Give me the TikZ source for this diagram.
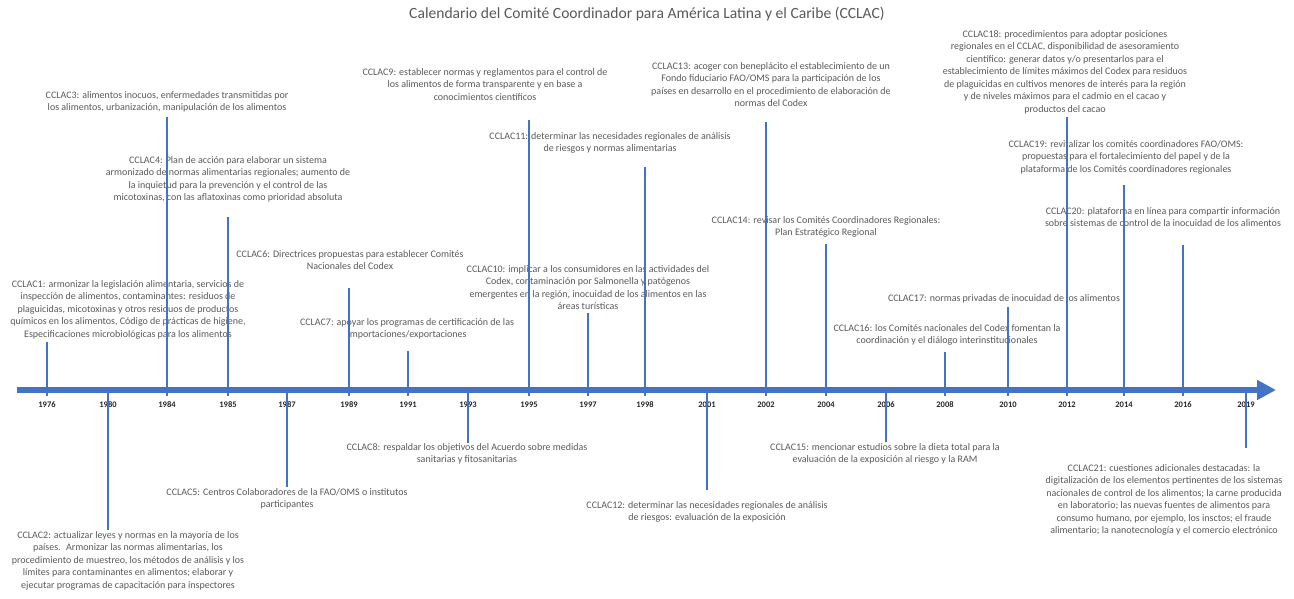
\documentclass[tikz,border=0pt]{standalone}
\usepackage{fontspec}
\setmainfont{Carlito}
\usetikzlibrary{arrows.meta}
\definecolor{tlblue}{HTML}{4472C4}
\definecolor{txtgray}{HTML}{595959}

\begin{document}
\begin{tikzpicture}[
    x=1pt, y=-1pt,
    evt/.style={anchor=north, inner sep=0pt, align=center, text=txtgray, font=\fontsize{10}{12.5}\selectfont},
    yearlbl/.style={inner sep=0pt, text=black!85, font=\fontsize{8.5}{10}\selectfont\bfseries},
    stem/.style={draw=tlblue, line width=1.2pt},
    axis/.style={draw=tlblue, line width=6.5pt, -{Triangle[length=19pt, width=19pt]}}
]
    \useasboundingbox (0,0) rectangle (1294,598);
    \node[text=txtgray, font=\fontsize{15.6}{18}\selectfont] (title) at (647,14) {Calendario del Comité Coordinador para América Latina y el Caribe (CCLAC)};

    % axis end points
    \coordinate (tstart) at (17,390);
    \coordinate (tend) at (1276,390);

    % points on the axis
    \coordinate (y1976) at (47,396);
    \coordinate (y1980) at (108,390);
    \coordinate (y1984) at (167,396);
    \coordinate (y1985) at (228,396);
    \coordinate (y1987) at (287,390);
    \coordinate (y1989) at (349,396);
    \coordinate (y1991) at (408,396);
    \coordinate (y1993) at (468,390);
    \coordinate (y1995) at (529,396);
    \coordinate (y1997) at (588,396);
    \coordinate (y1998) at (645,396);
    \coordinate (y2001) at (707,390);
    \coordinate (y2002) at (766,396);
    \coordinate (y2004) at (826,396);
    \coordinate (y2006) at (886,390);
    \coordinate (y2008) at (945,396);
    \coordinate (y2010) at (1008,396);
    \coordinate (y2012) at (1067,396);
    \coordinate (y2014) at (1124,396);
    \coordinate (y2016) at (1183,396);
    \coordinate (y2019) at (1246,390);

    % year labels
    \node[yearlbl] (l1976) at (47,405) {1976};
    \node[yearlbl] (l1980) at (108,405) {1980};
    \node[yearlbl] (l1984) at (167,405) {1984};
    \node[yearlbl] (l1985) at (228,405) {1985};
    \node[yearlbl] (l1987) at (287,405) {1987};
    \node[yearlbl] (l1989) at (349,405) {1989};
    \node[yearlbl] (l1991) at (408,405) {1991};
    \node[yearlbl] (l1993) at (468,405) {1993};
    \node[yearlbl] (l1995) at (529,405) {1995};
    \node[yearlbl] (l1997) at (588,405) {1997};
    \node[yearlbl] (l1998) at (645,405) {1998};
    \node[yearlbl] (l2001) at (707,405) {2001};
    \node[yearlbl] (l2002) at (766,405) {2002};
    \node[yearlbl] (l2004) at (826,405) {2004};
    \node[yearlbl] (l2006) at (886,405) {2006};
    \node[yearlbl] (l2008) at (945,405) {2008};
    \node[yearlbl] (l2010) at (1008,405) {2010};
    \node[yearlbl] (l2012) at (1067,405) {2012};
    \node[yearlbl] (l2014) at (1124,405) {2014};
    \node[yearlbl] (l2016) at (1183,405) {2016};
    \node[yearlbl] (l2019) at (1246,405) {2019};

    % sessions
    \node[evt] (c1) at (128,280) {CCLAC1: armonizar la legislación alimentaria, servicios de\\inspección de alimentos, contaminantes: residuos de\\plaguicidas, micotoxinas y otros residuos de productos\\químicos en los alimentos, Código de prácticas de higiene,\\Especificaciones microbiológicas para los alimentos};
    \node[evt] (c2) at (128,531) {CCLAC2: actualizar leyes y normas en la mayoría de los\\países.~ Armonizar las normas alimentarias, los\\procedimiento de muestreo, los métodos de análisis y los\\límites para contaminantes en alimentos; elaborar y\\ejecutar programas de capacitación para inspectores};
    \node[evt] (c3) at (167,91) {CCLAC3: alimentos inocuos, enfermedades transmitidas por\\los alimentos, urbanización, manipulación de los alimentos};
    \node[evt] (c4) at (228,156) {CCLAC4: Plan de acción para elaborar un sistema\\armonizado de normas alimentarias regionales; aumento de\\la inquietud para la prevención y el control de las\\micotoxinas, con las aflatoxinas como prioridad absoluta};
    \node[evt] (c5) at (287,488) {CCLAC5: Centros Colaboradores de la FAO/OMS o institutos\\participantes};
    \node[evt] (c6) at (350,250) {CCLAC6: Directrices propuestas para establecer Comités\\Nacionales del Codex};
    \node[evt] (c7) at (407,318) {CCLAC7: apoyar los programas de certificación de las\\importaciones/exportaciones};
    \node[evt] (c8) at (467,443) {CCLAC8: respaldar los objetivos del Acuerdo sobre medidas\\sanitarias y fitosanitarias};
    \node[evt] (c9) at (485,68) {CCLAC9: establecer normas y reglamentos para el control de\\los alimentos de forma transparente y en base a\\conocimientos científicos};
    \node[evt] (c10) at (588,265) {CCLAC10: implicar a los consumidores en las actividades del\\Codex, contaminación por Salmonella y patógenos\\emergentes en la región, inocuidad de los alimentos en las\\áreas turísticas};
    \node[evt] (c11) at (610,132) {CCLAC11: determinar las necesidades regionales de análisis\\de riesgos y normas alimentarias};
    \node[evt] (c12) at (707,501) {CCLAC12: determinar las necesidades regionales de análisis\\de riesgos: evaluación de la exposición};
    \node[evt] (c13) at (771,62) {CCLAC13: acoger con beneplácito el establecimiento de un\\Fondo fiduciario FAO/OMS para la participación de los\\países en desarrollo en el procedimiento de elaboración de\\normas del Codex};
    \node[evt] (c14) at (826,216) {CCLAC14: revisar los Comités Coordinadores Regionales:\\Plan Estratégico Regional};
    \node[evt] (c15) at (885,443) {CCLAC15: mencionar estudios sobre la dieta total para la\\evaluación de la exposición al riesgo y la RAM};
    \node[evt] (c16) at (947,324) {CCLAC16: los Comités nacionales del Codex fomentan la\\coordinación y el diálogo interinstitucionales};
    \node[evt] (c17) at (1004,294) {CCLAC17: normas privadas de inocuidad de los alimentos};
    \node[evt] (c18) at (1065,30) {CCLAC18: procedimientos para adoptar posiciones\\regionales en el CCLAC, disponibilidad de asesoramiento\\científico: generar datos y/o presentarlos para el\\establecimiento de límites máximos del Codex para residuos\\de plaguicidas en cultivos menores de interés para la región\\y de niveles máximos para el cadmio en el cacao y\\productos del cacao};
    \node[evt] (c19) at (1126,140) {CCLAC19: revitalizar los comités coordinadores FAO/OMS:\\propuestas para el fortalecimiento del papel y de la\\plataforma de los Comités coordinadores regionales};
    \node[evt] (c20) at (1163,207) {CCLAC20: plataforma en línea para compartir información\\sobre sistemas de control de la inocuidad de los alimentos};
    \node[evt] (c21) at (1164,464) {CCLAC21: cuestiones adicionales destacadas: la\\digitalización de los elementos pertinentes de los sistemas\\nacionales de control de los alimentos; la carne producida\\en laboratorio; las nuevas fuentes de alimentos para\\consumo humano, por ejemplo, los insctos; el fraude\\alimentario; la nanotecnología y el comercio electrónico};

    % stem ends
    \coordinate (s1) at (47,342);
    \coordinate (s2) at (108,530);
    \coordinate (s3) at (167,117);
    \coordinate (s4) at (228,217);
    \coordinate (s5) at (287,487);
    \coordinate (s6) at (349,288);
    \coordinate (s7) at (408,351);
    \coordinate (s8) at (468,443);
    \coordinate (s9) at (529,120);
    \coordinate (s10) at (588,313);
    \coordinate (s11) at (645,167);
    \coordinate (s12) at (707,490);
    \coordinate (s13) at (766,122);
    \coordinate (s14) at (826,244);
    \coordinate (s15) at (886,442);
    \coordinate (s16) at (945,352);
    \coordinate (s17) at (1008,307);
    \coordinate (s18) at (1067,117);
    \coordinate (s19) at (1124,185);
    \coordinate (s20) at (1183,245);
    \coordinate (s21) at (1246,448);

    \draw[stem] (y1976) -- (s1);
    \draw[stem] (y1980) -- (s2);
    \draw[stem] (y1984) -- (s3);
    \draw[stem] (y1985) -- (s4);
    \draw[stem] (y1987) -- (s5);
    \draw[stem] (y1989) -- (s6);
    \draw[stem] (y1991) -- (s7);
    \draw[stem] (y1993) -- (s8);
    \draw[stem] (y1995) -- (s9);
    \draw[stem] (y1997) -- (s10);
    \draw[stem] (y1998) -- (s11);
    \draw[stem] (y2001) -- (s12);
    \draw[stem] (y2002) -- (s13);
    \draw[stem] (y2004) -- (s14);
    \draw[stem] (y2006) -- (s15);
    \draw[stem] (y2008) -- (s16);
    \draw[stem] (y2010) -- (s17);
    \draw[stem] (y2012) -- (s18);
    \draw[stem] (y2014) -- (s19);
    \draw[stem] (y2016) -- (s20);
    \draw[stem] (y2019) -- (s21);

    \draw[axis] (tstart) -- (tend);
\end{tikzpicture}
\end{document}
